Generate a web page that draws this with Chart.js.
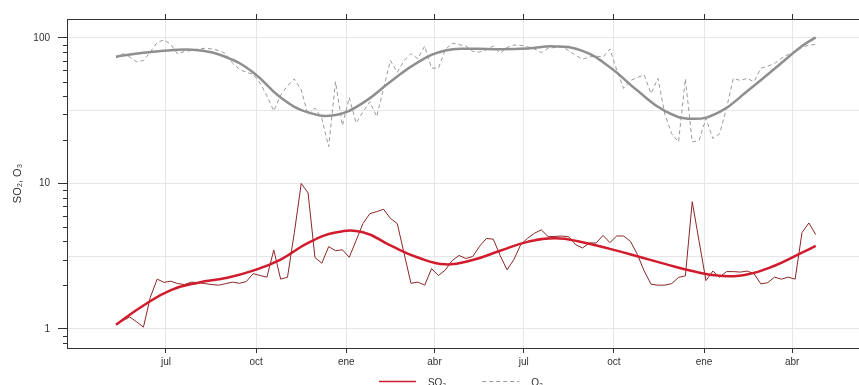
<!DOCTYPE html>
<html>
<head>
<meta charset="utf-8">
<script src="https://cdn.jsdelivr.net/npm/chart.js@4.4.1/dist/chart.umd.min.js"></script>
<style>
  html, body { margin: 0; padding: 0; background: #fff; overflow: hidden; }
  #wrap { width: 928px; height: 400px; }
</style>
</head>
<body>
<div id="wrap"><canvas id="chart" width="928" height="400"></canvas></div>
<script>
// Weekly samples. Day offsets are counted from 1 July of the first year.
const firstDay = -51;
const weekStep = 7;

// SO2 weekly values
const so2 = [
  1.07, 1.14, 1.21, 1.12, 1.03, 1.65, 2.2, 2.09, 2.13, 2.05,
  2.02, 2.1, 2.08, 2.05, 2.02, 2.0, 2.05, 2.1, 2.06, 2.12,
  2.4, 2.33, 2.27, 3.49, 2.2, 2.27, 4.6, 10, 8.6, 3.1,
  2.83, 3.68, 3.45, 3.5, 3.11, 4.05, 5.3, 6.2, 6.4, 6.65,
  5.76, 5.3, 3.3, 2.06, 2.1, 2.0, 2.6, 2.33, 2.54, 2.95,
  3.2, 3.05, 3.15, 3.7, 4.19, 4.14, 3.2, 2.55, 3.0, 3.8,
  4.2, 4.55, 4.8, 4.31, 4.33, 4.35, 4.3, 3.8, 3.6, 3.9,
  3.9, 4.4, 3.92, 4.36, 4.35, 4.0, 3.25, 2.5, 2.03, 2.0,
  2.0, 2.05, 2.26, 2.32, 7.5, 4.0, 2.15, 2.5, 2.27, 2.48,
  2.48, 2.46, 2.5, 2.4, 2.04, 2.08, 2.27, 2.2, 2.27, 2.2,
  4.6, 5.35, 4.45
];

// O3 weekly values
const o3 = [
  73, 78, 74, 68.6, 70, 80, 93, 97, 90, 77.5,
  81, 82, 84, 85, 84, 82, 78, 67, 61, 58,
  56.3, 49, 40, 31.5, 40.4, 47, 52.3, 44, 29.5, 33,
  28, 17.9, 50, 25, 39, 26, 31, 36.5, 28.8, 45,
  70, 58, 70, 78, 72, 88, 62, 62, 83, 92,
  90, 88, 81, 80, 83, 88, 78.4, 86, 89.4, 89,
  87, 84, 79.4, 85, 86, 87, 82, 76, 71.4, 74,
  75, 74, 84, 60, 45, 51, 53.5, 55.7, 41.5, 52.8,
  30, 22, 19.3, 52.3, 19.3, 19.8, 28, 20.4, 22, 33,
  52.8, 51, 52.8, 50, 62, 64, 66.8, 72.5, 77, 81,
  86, 89.5, 90
];

// smooth trends, read every 4 weeks
const trendWeeks = [0, 4, 8, 12, 16, 20, 24, 28, 32, 36, 40, 44, 48, 52, 56, 60, 64, 68, 72, 76, 80, 84, 88, 92, 96, 100, 102];
const so2Trend = [1.07, 1.45, 1.85, 2.08, 2.24, 2.52, 3.0, 3.9, 4.6, 4.62, 3.75, 3.1, 2.78, 2.98, 3.45, 3.97, 4.2, 3.95, 3.55, 3.16, 2.8, 2.5, 2.32, 2.37, 2.72, 3.35, 3.72];
const o3Trend = [74.4, 79, 82.4, 82.3, 74, 58, 39, 30.8, 29.6, 35.8, 50, 68, 82, 84.2, 83.8, 84.8, 87.5, 81.5, 63, 43.5, 31.5, 27.8, 31, 43, 61.5, 88, 101];

// axes
const tickDays = [0, 92, 184, 274, 365, 457, 549, 639];
const tickLabels = ['jul', 'oct', 'ene', 'abr', 'jul', 'oct', 'ene', 'abr'];
const yLabelTicks = [1, 10, 100];
const yGridValues = [1, 3.162, 10, 31.62, 100];
const yMinorTicks = [0.8, 0.9, 2, 3, 4, 5, 6, 7, 8, 9, 20, 30, 40, 50, 60, 70, 80, 90];

// key under the plot
const keyLabels = ['SO₂', 'O₃'];
const keyColors = ['#d01c2c', '#9a9a9a'];
const keyDashes = [[], [4, 3]];

const FONT = "'Liberation Sans', Arial, sans-serif";
const AXIS_COLOR = '#333';
const GRID_COLOR = '#e6e6e6';

function toPoints(weeks, values) {
  return values.map((v, k) => ({ x: firstDay + weekStep * weeks[k], y: v }));
}
const allWeeks = so2.map((_, i) => i);

// short minor tick marks on the log axis
const minorTicks = {
  id: 'minorTicks',
  afterDraw(chart) {
    const y = chart.scales.y;
    const left = chart.chartArea.left;
    const ctx = chart.ctx;
    ctx.save();
    ctx.strokeStyle = AXIS_COLOR;
    ctx.lineWidth = 1;
    yMinorTicks.forEach(v => {
      const py = Math.round(y.getPixelForValue(v)) + 0.5;
      ctx.beginPath();
      ctx.moveTo(left - 4, py);
      ctx.lineTo(left, py);
      ctx.stroke();
    });
    ctx.restore();
  }
};

// lattice-style key: line sample, gap, label; centred on the canvas
const bottomKey = {
  id: 'bottomKey',
  afterDraw(chart) {
    const ctx = chart.ctx;
    const y = Math.round(chart.chartArea.bottom + 33) + 0.5;
    const lineLen = 37, textGap = 12, itemGap = 36;
    ctx.save();
    ctx.font = '10px ' + FONT;
    const widths = keyLabels.map(t => lineLen + textGap + ctx.measureText(t).width);
    const total = widths.reduce((a, b) => a + b, 0) + itemGap * (keyLabels.length - 1);
    let x = chart.width / 2 - total / 2 - 3;
    keyLabels.forEach((t, i) => {
      ctx.strokeStyle = keyColors[i];
      ctx.lineWidth = i === 0 ? 1.5 : 1;
      ctx.setLineDash(keyDashes[i]);
      ctx.beginPath();
      ctx.moveTo(x, y);
      ctx.lineTo(x + lineLen, y);
      ctx.stroke();
      ctx.setLineDash([]);
      ctx.fillStyle = AXIS_COLOR;
      ctx.textBaseline = 'middle';
      ctx.textAlign = 'left';
      ctx.fillText(t, x + lineLen + textGap, y + 2);
      x += widths[i] + itemGap;
    });
    ctx.restore();
  }
};

const xRange = { min: -101, max: 749 };

new Chart(document.getElementById('chart'), {
  type: 'line',
  data: {
    datasets: [
      {
        label: 'SO2 trend', data: toPoints(trendWeeks, so2Trend),
        borderColor: '#d01c2c', borderWidth: 2.5, pointRadius: 0,
        tension: 0.45, order: 1
      },
      {
        label: 'O3 trend', data: toPoints(trendWeeks, o3Trend),
        borderColor: '#8f8f8f', borderWidth: 2.5, pointRadius: 0,
        tension: 0.45, order: 1
      },
      {
        label: 'SO2', data: toPoints(allWeeks, so2),
        borderColor: '#8b2626', borderWidth: 1, pointRadius: 0, tension: 0, order: 2
      },
      {
        label: 'O3', data: toPoints(allWeeks, o3),
        borderColor: '#9a9a9a', borderWidth: 1, borderDash: [4, 3], pointRadius: 0, tension: 0, order: 2
      }
    ]
  },
  options: {
    responsive: false,
    animation: false,
    layout: { padding: { left: 0, right: 28, top: 0, bottom: 30 } },
    plugins: {
      tooltip: { enabled: false },
      legend: { display: false }
    },
    scales: {
      x: {
        type: 'linear', position: 'bottom', ...xRange,
        afterBuildTicks: s => { s.ticks = tickDays.map(v => ({ value: v })); },
        afterFit: s => { s.height = 22; },
        grid: { color: GRID_COLOR, tickLength: 5, tickColor: AXIS_COLOR },
        border: { display: true, color: AXIS_COLOR, width: 1 },
        ticks: {
          autoSkip: false, maxRotation: 0, padding: 3, color: AXIS_COLOR,
          font: { family: FONT, size: 10 },
          callback: (v, i) => tickLabels[i]
        }
      },
      xTop: {
        type: 'linear', position: 'top', ...xRange,
        afterBuildTicks: s => { s.ticks = tickDays.map(v => ({ value: v })); },
        afterFit: s => { s.height = 19; },
        grid: { drawOnChartArea: false, tickLength: 5, tickColor: AXIS_COLOR },
        border: { display: true, color: AXIS_COLOR, width: 1 },
        ticks: { display: false }
      },
      y: {
        type: 'logarithmic', min: 0.74, max: 135, bounds: 'data',
        afterBuildTicks: s => {
          s.ticks = [...yLabelTicks, ...yMinorTicks, 3.162, 31.62]
            .sort((a, b) => a - b).map(v => ({ value: v }));
          s.min = 0.74;
          s.max = 135;
        },
        afterFit: s => { s.width = 67; },
        grid: {
          color: c => yGridValues.includes(c.tick.value) ? GRID_COLOR : 'rgba(0,0,0,0)',
          tickLength: 9,
          tickColor: c => yLabelTicks.includes(c.tick.value) ? AXIS_COLOR : 'rgba(0,0,0,0)'
        },
        border: { display: true, color: AXIS_COLOR, width: 1 },
        ticks: {
          autoSkip: false, padding: 8, color: AXIS_COLOR,
          font: { family: FONT, size: 10 },
          callback: v => yLabelTicks.includes(v) ? String(v) : ''
        },
        title: {
          display: true, text: 'SO₂, O₃', color: AXIS_COLOR,
          font: { family: FONT, size: 11 },
          padding: { top: 11, bottom: 0 }
        }
      }
    }
  },
  plugins: [minorTicks, bottomKey]
});
</script>
</body>
</html>
